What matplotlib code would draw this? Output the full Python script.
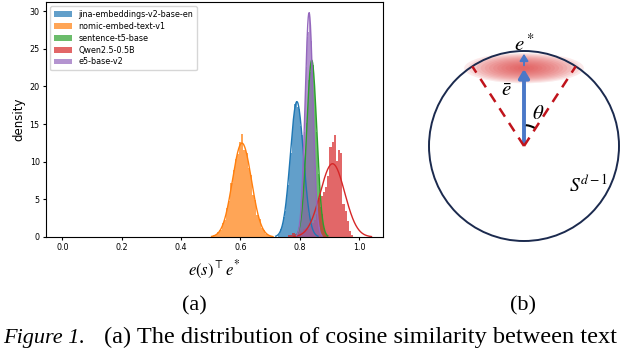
import numpy as np
import matplotlib
matplotlib.use("Agg")
import matplotlib.pyplot as plt
from matplotlib.patches import Circle, Ellipse, Arc, FancyArrowPatch

# -------------------------------
# DATA
# -------------------------------
models = ["jina-embeddings-v2-base-en", "nomic-embed-text-v1",
          "sentence-t5-base", "Qwen2.5-0.5B", "e5-base-v2"]
colors = ["tab:blue", "tab:orange", "tab:green", "tab:red", "tab:purple"]

# histogram: first bin edge, bin width, density per bin (30 bins each)
bin_start = [0.725, 0.500, 0.785, 0.760, 0.780]
bin_width = [0.0047, 0.00733, 0.00367, 0.00733, 0.00333]

jina_density = [0.2, 0.4, 1.1, 1.5, 2.6, 3.4, 5.6, 6.9, 9.8, 11.2,
                14.3, 15.5, 17.6, 18.1, 17.3, 17.0, 14.8, 13.6, 10.7, 9.1,
                6.4, 5.1, 3.0, 2.4, 1.2, 0.9, 0.4, 0.3, 0.1, 0.1]
nomic_density = [0.1, 0.2, 0.3, 0.7, 0.9, 1.8, 2.3, 3.9, 4.8, 7.2,
                 8.9, 10.4, 11.0, 12.6, 13.7, 11.5, 11.2, 9.1, 8.2, 5.6,
                 4.9, 2.9, 2.4, 1.2, 0.9, 0.4, 0.3, 0.1, 0.1, 0.05]
st5_density = [0.1, 0.3, 0.7, 1.0, 2.0, 2.6, 4.7, 6.1, 9.2, 11.2,
               15.1, 17.0, 20.8, 21.9, 24.1, 23.0, 22.8, 19.6, 18.3, 14.0,
               12.1, 8.3, 6.6, 4.0, 3.1, 1.6, 1.2, 0.5, 0.3, 0.1]
qwen_density = [0.3, 0.3, 0.5, 0.4, 0.6, 0.8, 0.7, 1.0, 1.2, 1.1,
                1.5, 1.8, 2.2, 3.0, 5.2, 5.4, 6.0, 6.7, 8.1, 11.9,
                12.6, 13.5, 10.1, 11.6, 11.2, 4.4, 3.5, 2.1, 0.8, 0.3]
e5_density = [0.05, 0.1, 0.2, 0.5, 0.7, 1.6, 2.5, 4.8, 6.7, 11.1,
              14.0, 19.8, 22.6, 26.5, 27.2, 29.9, 28.1, 26.0, 20.9, 17.8,
              12.3, 9.4, 5.7, 3.9, 2.0, 1.3, 0.5, 0.3, 0.1, 0.05]
densities = [jina_density, nomic_density, st5_density, qwen_density, e5_density]

# fitted normal curves (mean, std)
fit_mu = [0.790, 0.605, 0.840, 0.910, 0.831]
fit_sd = [0.0222, 0.032, 0.017, 0.041, 0.0134]

x_ticks = [0.0, 0.2, 0.4, 0.6, 0.8, 1.0]
y_ticks = [0, 5, 10, 15, 20, 25, 30]

# diagram (b): cone half-angle in degrees
theta_deg = 33

# -------------------------------
# FIGURE
# -------------------------------
plt.rcParams["mathtext.fontset"] = "stix"
fig = plt.figure(figsize=(6.4, 3.49), dpi=100)

# ---- panel (a) ----
ax = fig.add_axes([46 / 640, 1 - 237 / 349, 337 / 640, 235 / 349])
for dens, start, w, c, name in zip(densities, bin_start, bin_width, colors, models):
    edges = start + w * np.arange(len(dens))
    ax.bar(edges, dens, width=w, align="edge", color=c, alpha=0.7,
           linewidth=0, label=name)
for mu, sd, c in zip(fit_mu, fit_sd, colors):
    xs = np.linspace(mu - 3.2 * sd, mu + 3.2 * sd, 200)
    ax.plot(xs, np.exp(-0.5 * ((xs - mu) / sd) ** 2) / (sd * np.sqrt(2 * np.pi)),
            color=c, lw=1.0)

ax.set_xlim(-0.055, 1.08)
ax.set_ylim(0, 31.2)
ax.set_xticks(x_ticks)
ax.set_yticks(y_ticks)
ax.tick_params(labelsize=5.8, length=2.5, width=0.8, pad=2)
ax.set_ylabel("density", fontsize=8.5, labelpad=3)
ax.set_xlabel(r"$e(s)^{\top}e^{*}$", fontsize=12, labelpad=5)
ax.legend(loc="upper left", fontsize=5.8, handlelength=2.2, labelspacing=0.35,
          borderpad=0.5, framealpha=0.8)

# ---- panel (b) ----
R = 95  # circle radius in pixels
bx = fig.add_axes([400 / 640, 89 / 349, 240 / 640, 260 / 349])
bx.set_xlim(-124 / R, 116 / R)
bx.set_ylim(-114 / R, 146 / R)
bx.set_aspect("equal")
bx.axis("off")

# fuzzy red cap
for k in range(14):
    s = 1 - k / 14
    bx.add_patch(Ellipse((0, 0.82), 1.22 * s + 0.04, 0.30 * s + 0.02,
                         color="#e04848", alpha=0.11, lw=0))

t = np.deg2rad(theta_deg)
for sgn in (-1, 1):
    bx.plot([0, sgn * np.sin(t)], [0, np.cos(t)], color="#c0141c", lw=1.8,
            dashes=(4, 3))

bx.add_patch(Circle((0, 0), 1, fill=False, ec="#1b2a4e", lw=1.4))
bx.add_patch(FancyArrowPatch((0, 0), (0, 0.84), arrowstyle="-|>,head_length=5,head_width=3",
                             color="#4a78c8", lw=2.8, mutation_scale=1))
bx.add_patch(FancyArrowPatch((0, 0.82), (0, 1.0), arrowstyle="-|>,head_length=4,head_width=2.5",
                             color="#4a78c8", lw=1.4, mutation_scale=1))
bx.add_patch(Arc((0, 0), 0.44, 0.44, theta1=57, theta2=85, color="black", lw=1.5))

bx.text(0, 1.07, r"$e^*$", fontsize=15, ha="center", va="center")
bx.text(-0.18, 0.59, r"$\bar{e}$", fontsize=15, ha="center", va="center")
bx.text(0.15, 0.35, r"$\theta$", fontsize=15, ha="center", va="center")
bx.text(0.68, -0.41, r"$S^{d-1}$", fontsize=14, ha="center", va="center")

# ---- labels and caption ----
serif = ["Liberation Serif", "DejaVu Serif"]
fig.text(194 / 640, 1 - 306 / 349, "(a)", fontsize=16, family=serif,
         ha="center", va="center")
fig.text(523 / 640, 1 - 306 / 349, "(b)", fontsize=16, family=serif,
         ha="center", va="center")
fig.text(3 / 640, 6 / 349, "Figure 1.", fontsize=16, family=serif,
         style="italic", ha="left", va="baseline")
fig.text(104 / 640, 6 / 349, "(a) The distribution of cosine similarity between text",
         fontsize=17.5, family=serif, ha="left", va="baseline")

fig.savefig("out.png", dpi=100)
